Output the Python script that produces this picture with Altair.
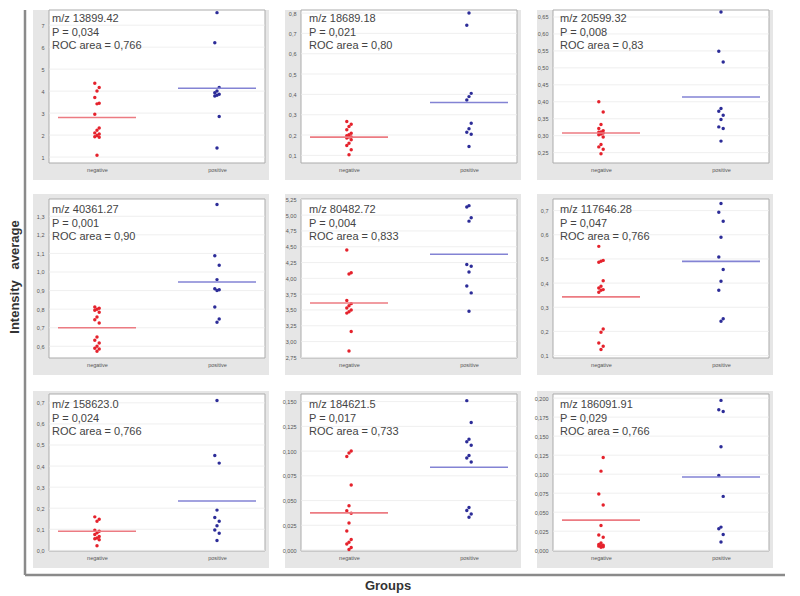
import altair as alt
import pandas as pd

GROUPS = ["negative", "positive"]

MZ = ["m/z 13899.42", "m/z 18689.18", "m/z 20599.32",
      "m/z 40361.27", "m/z 80482.72", "m/z 117646.28",
      "m/z 158623.0", "m/z 184621.5", "m/z 186091.91"]
P_TXT = ["P = 0,034", "P = 0,021", "P = 0,008",
         "P = 0,001", "P = 0,004", "P = 0,047",
         "P = 0,024", "P = 0,017", "P = 0,029"]
ROC_TXT = ["ROC area = 0,766", "ROC area = 0,80", "ROC area = 0,83",
           "ROC area = 0,90", "ROC area = 0,833", "ROC area = 0,766",
           "ROC area = 0,766", "ROC area = 0,733", "ROC area = 0,766"]

NEG = [
    [4.36, 4.16, 4.01, 3.71, 3.45, 3.42, 2.95, 2.32, 2.22, 2.10, 2.05, 1.98, 1.92, 1.90, 1.08],
    [0.267, 0.253, 0.242, 0.226, 0.209, 0.201, 0.196, 0.191, 0.19, 0.185, 0.177, 0.160, 0.149, 0.128, 0.103],
    [0.40, 0.370, 0.333, 0.321, 0.315, 0.311, 0.310, 0.308, 0.305, 0.303, 0.296, 0.274, 0.267, 0.260, 0.247],
    [0.812, 0.805, 0.80, 0.794, 0.783, 0.758, 0.743, 0.725, 0.65, 0.632, 0.618, 0.60, 0.59, 0.585, 0.573],
    [4.45, 4.09, 4.07, 3.65, 3.60, 3.565, 3.53, 3.50, 3.47, 3.45, 3.16, 2.85],
    [0.552, 0.494, 0.49, 0.486, 0.410, 0.387, 0.380, 0.373, 0.370, 0.362, 0.210, 0.197, 0.152, 0.139, 0.125],
    [0.159, 0.148, 0.138, 0.095, 0.091, 0.083, 0.075, 0.066, 0.059, 0.055, 0.05, 0.022],
    [0.100, 0.098, 0.0945, 0.0657, 0.0448, 0.0398, 0.0372, 0.0272, 0.0192, 0.0106, 0.0079, 0.006, 0.0026, 0.0006],
    [0.122, 0.104, 0.074, 0.0596, 0.0325, 0.020, 0.017, 0.0096, 0.0075, 0.0067, 0.0054, 0.0046, 0.004, 0.0058],
]
POS = [
    [7.57, 6.20, 4.16, 4.01, 3.93, 3.86, 3.81, 3.78, 2.85, 1.41],
    [0.80, 0.74, 0.405, 0.389, 0.372, 0.258, 0.231, 0.214, 0.204, 0.144],
    [0.665, 0.549, 0.517, 0.380, 0.372, 0.360, 0.348, 0.326, 0.321, 0.284],
    [1.363, 1.088, 1.036, 0.959, 0.91, 0.905, 0.90, 0.812, 0.747, 0.729],
    [5.15, 5.13, 4.96, 4.905, 4.22, 4.19, 4.10, 3.88, 3.77, 3.48],
    [0.729, 0.693, 0.656, 0.590, 0.508, 0.456, 0.408, 0.370, 0.252, 0.242],
    [0.711, 0.45, 0.414, 0.191, 0.156, 0.138, 0.117, 0.097, 0.081, 0.047],
    [0.151, 0.129, 0.112, 0.1095, 0.106, 0.0955, 0.093, 0.089, 0.043, 0.040, 0.0365, 0.0332],
    [0.197, 0.1846, 0.1825, 0.136, 0.0983, 0.0708, 0.0304, 0.0283, 0.0208, 0.0108],
]
NEG_LINE = [2.80, 0.19, 0.308, 0.70, 3.61, 0.343, 0.091, 0.0375, 0.0396]
POS_LINE = [4.13, 0.36, 0.414, 0.946, 4.38, 0.49, 0.234, 0.0836, 0.0963]

TICKS = [
    [1, 2, 3, 4, 5, 6, 7],
    [0.1, 0.2, 0.3, 0.4, 0.5, 0.6, 0.7, 0.8],
    [0.25, 0.30, 0.35, 0.40, 0.45, 0.50, 0.55, 0.60, 0.65],
    [0.6, 0.7, 0.8, 0.9, 1.0, 1.1, 1.2, 1.3],
    [2.75, 3.00, 3.25, 3.50, 3.75, 4.00, 4.25, 4.50, 4.75, 5.00, 5.25],
    [0.1, 0.2, 0.3, 0.4, 0.5, 0.6, 0.7],
    [0.0, 0.1, 0.2, 0.3, 0.4, 0.5, 0.6, 0.7],
    [0.0, 0.025, 0.05, 0.075, 0.1, 0.125, 0.15],
    [0.0, 0.025, 0.05, 0.075, 0.1, 0.125, 0.15, 0.175, 0.2],
]
FORMATS = ["d", ".1f", ".2f", ".1f", ".2f", ".1f", ".1f", ".3f", ".3f"]
DOMAINS = [
    [0.73, 7.69], [0.0625, 0.815], [0.2195, 0.6706],
    [0.537, 1.393], [2.74, 5.255], [0.09, 0.748],
    [-0.003, 0.742], [-0.001, 0.1577], [-0.001, 0.2054],
]

# layout / style
W = 216
ROW_H = [153, 159, 157]
GRAY_TOP = [0, -5, -3]
TEXT_X = [3, 8, 7]
TEXT_Y = [3, 5, 5]
RED, BLUE = "#e5222c", "#2c2c98"
RED_LINE, BLUE_LINE = "#ec7b82", "#8383d4"
FONT = "Liberation Sans"
ONE = pd.DataFrame({"d": [0]})


def panel(i):
    row, col = divmod(i, 3)
    H = ROW_H[row]
    pts = pd.DataFrame({
        "group": ["negative"] * len(NEG[i]) + ["positive"] * len(POS[i]),
        "value": NEG[i] + POS[i],
    })
    means = pd.DataFrame({"group": GROUPS, "value": [NEG_LINE[i], POS_LINE[i]]})
    grid_df = pd.DataFrame({"value": TICKS[i]})

    xenc = alt.X("group:N",
                 scale=alt.Scale(type="point", domain=GROUPS, padding=0.4),
                 axis=alt.Axis(title=None, labelFontSize=5.5, labelColor="#555",
                               ticks=False, domain=False, grid=False, labelAngle=0,
                               labelPadding=4, zindex=1, labelFont=FONT))
    yenc = alt.Y("value:Q",
                 scale=alt.Scale(domain=DOMAINS[i], nice=False, zero=False),
                 axis=alt.Axis(title=None, values=TICKS[i], tickCount=50, labelFontSize=5.5,
                               labelColor="#555", ticks=False, domain=False, grid=False,
                               labelPadding=5,
                               labelOverlap=False, labelBound=False, labelFlush=False,
                               zindex=1, labelFont=FONT,
                               labelExpr="replace(format(datum.value, '%s'), '.', ',')" % FORMATS[i]))
    col_cond = alt.condition("datum.group == 'negative'", alt.value(RED), alt.value(BLUE))
    line_cond = alt.condition("datum.group == 'negative'", alt.value(RED_LINE), alt.value(BLUE_LINE))

    gray = alt.Chart(ONE).mark_rect(color="#e6e6e6").encode(
        x=alt.value(-16), x2=alt.value(W + 4),
        y=alt.value(GRAY_TOP[row]), y2=alt.value(H + 17))
    white = alt.Chart(ONE).mark_rect(fill="white", stroke="#ababab", strokeWidth=1).encode(
        x=alt.value(0), x2=alt.value(W), y=alt.value(0), y2=alt.value(H))
    grid = alt.Chart(grid_df).mark_rule(color="#ebebeb", strokeWidth=0.8).encode(
        y=alt.Y("value:Q"))
    points = alt.Chart(pts).transform_window(
        rn="row_number()", groupby=["group"], sort=[alt.SortField("value")]
    ).transform_calculate(
        jit="((datum.rn % 3) - 1) * 2.2"
    ).mark_circle(size=12, opacity=1).encode(
        x=xenc, y=yenc, color=col_cond,
        xOffset=alt.XOffset("jit:Q", scale=None))
    lines = alt.Chart(means).mark_tick(size=78, thickness=1.6, opacity=1).encode(
        x=alt.X("group:N"), y=alt.Y("value:Q"), color=line_cond)
    text = alt.Chart(ONE).mark_text(align="left", baseline="top", fontSize=11,
                                    lineHeight=13.5, font=FONT, color="#444").encode(
        x=alt.value(TEXT_X[col]), y=alt.value(TEXT_Y[row]),
        text=alt.value([MZ[i], P_TXT[i], ROC_TXT[i]]))
    layers = [gray, white, points, grid, lines, text]

    if i == 3:
        layers.append(alt.Chart(ONE).mark_text(angle=270, fontSize=13, fontWeight="bold",
                                               font=FONT, color="#333").encode(
            x=alt.value(-34), y=alt.value(78),
            text=alt.value("Intensity\u00a0\u00a0\u00a0average")))
    if i == 6:
        layers.append(alt.Chart(ONE).mark_rule(color="#8a8a8a", strokeWidth=2.5).encode(
            x=alt.value(-24), y=alt.value(-384), y2=alt.value(181)))
        layers.append(alt.Chart(ONE).mark_rule(color="#8a8a8a", strokeWidth=2.5).encode(
            x=alt.value(-24), x2=alt.value(736), y=alt.value(181)))
    if i == 7:
        layers.append(alt.Chart(ONE).mark_text(fontSize=13, fontWeight="bold",
                                               font=FONT, color="#333").encode(
            x=alt.value(87), y=alt.value(192), text=alt.value("Groups")))

    # grid drawn below points: reorder so that grid comes right after the white rect
    layers = [gray, white, grid, points, lines, text] + layers[6:]
    return alt.layer(*layers).properties(width=W, height=H)


chart = alt.concat(
    *[panel(i) for i in range(9)],
    columns=3,
    spacing={"row": 36, "column": 36},
    bounds="flush",
).resolve_scale(x="independent", y="independent").properties(
    padding={"left": 0, "top": 0, "right": 5, "bottom": 0},
    background="white",
).configure_view(stroke="transparent")

chart.save("out.html", embed_options={"renderer": "svg", "actions": False})
